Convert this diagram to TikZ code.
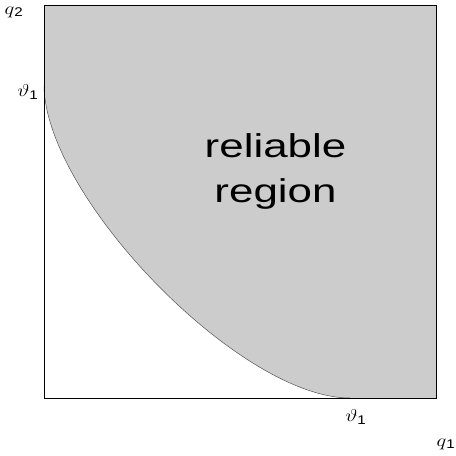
\documentclass[tikz,border=0pt]{standalone}
\usepackage{fontspec}
\setmainfont{Liberation Sans}
\setsansfont{Liberation Sans}
\definecolor{regiongray}{HTML}{CCCCCC}
\definecolor{curvegray}{HTML}{555555}
\newcommand{\hstretch}[1]{\scalebox{1.2}[1]{#1}}
\newcommand{\bigstretch}[1]{\scalebox{1.33}[1]{#1}}
\tikzset{
  axislabel/.style={inner sep=0pt, font=\fontsize{18}{18}\selectfont},
  bigtext/.style={inner sep=0pt, anchor=base, font=\fontsize{33}{40}\selectfont},
  frame/.style={draw=black, line width=0.9pt},
  boundary/.style={draw=curvegray, line width=0.5pt}
}
\begin{document}
\begin{tikzpicture}[x=1pt,y=-1pt]
\useasboundingbox (0,0) rectangle (456,456);
\coordinate (tl) at (44,5);
\coordinate (tr) at (436,5);
\coordinate (br) at (436,398);
\coordinate (bl) at (44,398);
\coordinate (cs) at (44,86);
\coordinate (ce) at (350,398);
\fill[regiongray] (cs) .. controls (46,198) and (240,398) .. (ce) -- (br) -- (tr) -- (tl) -- cycle;
\draw[boundary] (cs) .. controls (46,198) and (240,398) .. (ce);
\draw[frame] (tl) rectangle (br);
\node[bigtext] (rel1) at (275.5,157) {\bigstretch{reliable}};
\node[bigtext] (rel2) at (275.5,202) {\bigstretch{region}};
\node[axislabel] (q2) at (14,12) {\hstretch{$q$\textsubscript{2}}};
\node[axislabel] (th1) at (28,92) {\hstretch{$\vartheta$\textsubscript{1}}};
\node[axislabel] (th2) at (356,417) {\hstretch{$\vartheta$\textsubscript{1}}};
\node[axislabel] (q1) at (446,444) {\hstretch{$q$\textsubscript{1}}};
\end{tikzpicture}
\end{document}
